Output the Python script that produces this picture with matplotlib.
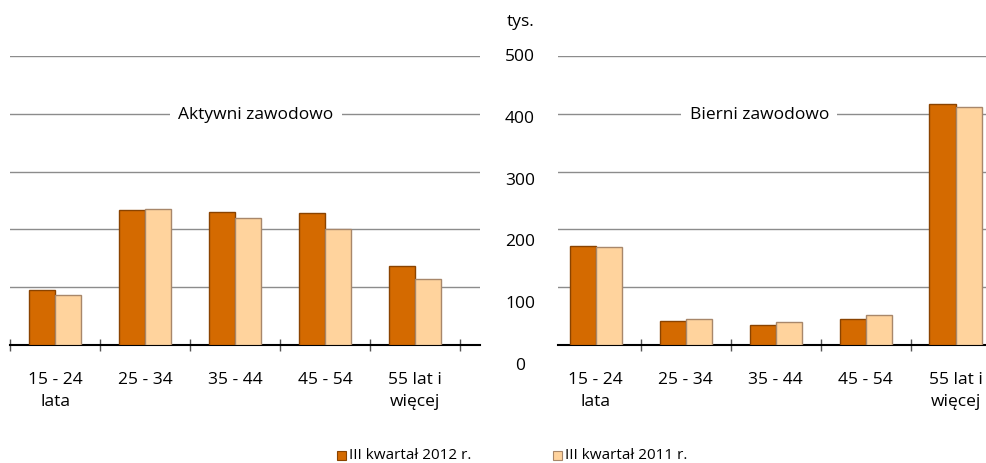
import matplotlib
matplotlib.use("Agg")
import matplotlib.pyplot as plt
from matplotlib.patches import Rectangle

plt.rcParams['font.family'] = ['Open Sans', 'DejaVu Sans']

categories = ["15 - 24\nlata", "25 - 34", "35 - 44", "45 - 54", "55 lat i\nwięcej"]
active_2012 = [96, 234, 230, 228, 136]
active_2011 = [87, 236, 220, 201, 114]
inactive_2012 = [172, 42, 35, 45, 417]
inactive_2011 = [170, 45, 40, 52, 412]
yticks = [0, 100, 200, 300, 400, 500]
series_names = ["III kwartał 2012 r.", "III kwartał 2011 r."]
panel_titles = ["Aktywni zawodowo", "Bierni zawodowo"]

c_dark = "#D46A00"
c_light = "#FFD39D"
e_dark = "#8A4300"
e_light = "#A8876A"

W, H = 987, 464
fig = plt.figure(figsize=(W / 100, H / 100), dpi=100)

def fx(px):
    return px / W

def fy(py):
    return 1 - py / H

axL = fig.add_axes([fx(10), fy(346), fx(470), fy(57) - fy(346)])
axR = fig.add_axes([fx(558), fy(346), fx(429), fy(57) - fy(346)])

bw = 0.29
xs = list(range(len(categories)))
FS = 12.5

def draw(ax, a, b, xlim, title, title_x):
    for v in yticks[1:]:
        ax.axhline(v, color="#8C8C8C", lw=1.0, zorder=0)
    ax.bar([x - bw / 2 for x in xs], a, width=bw, color=c_dark,
           edgecolor=e_dark, linewidth=1.0, zorder=3)
    ax.bar([x + bw / 2 for x in xs], b, width=bw, color=c_light,
           edgecolor=e_light, linewidth=1.0, zorder=3)
    for sp in ["top", "right", "left"]:
        ax.spines[sp].set_visible(False)
    ax.spines["bottom"].set_color("black")
    ax.spines["bottom"].set_linewidth(1.5)
    ax.set_yticks([])
    ax.set_xticks([x - 0.5 for x in range(len(categories) + 1)])
    ax.set_xticklabels([])
    ax.tick_params(axis="x", direction="inout", length=9, width=1.0,
                   color="#555555")
    ax.set_xticks(xs, minor=True)
    ax.set_xticklabels(categories, minor=True, fontsize=FS,
                       linespacing=1.45)
    ax.tick_params(axis="x", which="minor", length=0, pad=19)
    ax.set_xlim(*xlim)
    ax.set_ylim(0, 500)
    ax.text(title_x, 400, title, ha="center", va="center", fontsize=FS,
            zorder=5, bbox=dict(facecolor="white", edgecolor="none", pad=6))

draw(axL, active_2012, active_2011, (-0.5, 4.72), panel_titles[0], 2.23)
draw(axR, inactive_2012, inactive_2011, (-0.42, 4.35), panel_titles[1], 1.82)

# central y-axis labels
axY = fig.add_axes([fx(505), fy(366), fx(30), fy(57) - fy(366)])
axY.set_ylim(0, 500)
axY.set_xlim(0, 1)
axY.axis("off")
for v in yticks:
    axY.text(0.5, v, str(v), ha="center", va="center", fontsize=FS)
fig.text(fx(521), fy(22), "tys.", ha="center", va="center", fontsize=FS)

# legend
for name, fc, ec, px in zip(series_names, [c_dark, c_light],
                            [e_dark, e_light], [337, 553]):
    fig.patches.append(Rectangle((fx(px), fy(461)), fx(9), fy(452) - fy(461),
                                 transform=fig.transFigure, facecolor=fc,
                                 edgecolor=ec, linewidth=0.8))
    fig.text(fx(px + 12), fy(456), name, ha="left", va="center", fontsize=11)

fig.savefig("out.png", dpi=100)
